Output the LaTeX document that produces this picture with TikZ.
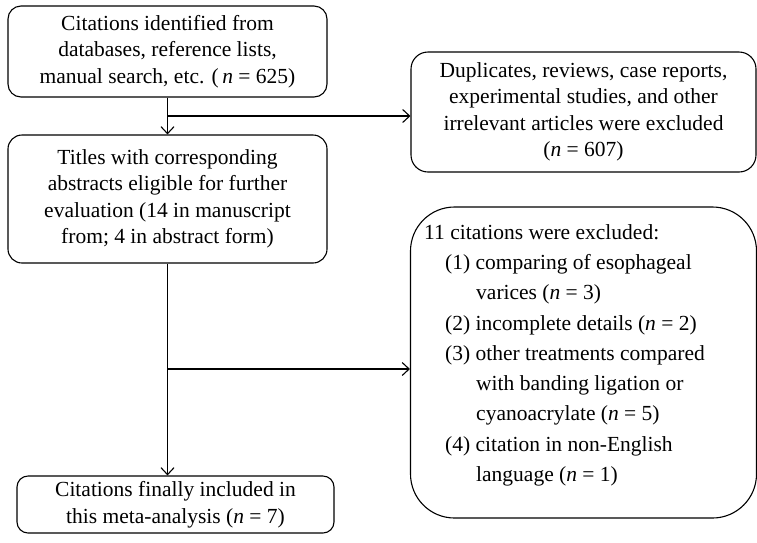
\documentclass[tikz,border=0pt]{standalone}
\usepackage{fontspec}
\setmainfont{Liberation Serif}
\usetikzlibrary{arrows.meta}
\newcommand{\nn}{\textit{n}}
\begin{document}
\begin{tikzpicture}[x=1pt,y=-1pt,
  boxstyle/.style={draw, line width=1.1pt, inner sep=0pt, align=center,
    font=\fontsize{21.5}{26.5}\selectfont},
  arr/.style={line width=1.1pt, -{Straight Barb[length=7pt,width=13pt,line width=1.1pt]}}]
\useasboundingbox (0,0) rectangle (757,542);
\node[boxstyle, rounded corners=13pt, minimum width=319pt, minimum height=91pt] (b1) at (167.5,51.5)
  {Citations identified from\\databases, reference lists,\\manual search, etc. (\,\nn{} = 625)};
\node[boxstyle, rounded corners=14pt, minimum width=319pt, minimum height=128pt] (b2) at (167.5,199)
  {Titles with corresponding\\abstracts eligible for further\\evaluation (14 in manuscript\\from; 4 in abstract form)};
\node[boxstyle, rounded corners=17pt, minimum width=345pt, minimum height=120pt] (dup) at (583.5,112)
  {Duplicates, reviews, case reports,\\experimental studies, and other\\irrelevant articles were excluded\\(\nn{} = 607)};
\node[boxstyle, rounded corners=44pt, minimum width=346pt, minimum height=311pt] (exc) at (583.5,362.5) {};
\node[anchor=north west, inner sep=0pt, align=left, font=\fontsize{21.5}{30.3}\selectfont] (exct) at (424,224)
  {11 citations were excluded:\\
   \hspace*{21pt}(1) comparing of esophageal\\
   \hspace*{52pt}varices (\nn{} = 3)\\
   \hspace*{21pt}(2) incomplete details (\nn{} = 2)\\
   \hspace*{21pt}(3) other treatments compared\\
   \hspace*{52pt}with banding ligation or\\
   \hspace*{52pt}cyanoacrylate (\nn{} = 5)\\
   \hspace*{21pt}(4) citation in non-English\\
   \hspace*{52pt}language (\nn{} = 1)};
\node[boxstyle, rounded corners=11pt, minimum width=317pt, minimum height=57pt] (fin) at (175.5,504.5)
  {Citations finally included in\\this meta-analysis (\nn{} = 7)};
\coordinate (j1) at (168,116);
\coordinate (j2) at (168,369);
\draw[arr] (b1.south) -- (b2.north);
\draw[arr] (j1) -- (j1 -| dup.west);
\draw[arr] (b2.south) -- (b2.south |- fin.north);
\draw[arr] (j2) -- (j2 -| exc.west);
\end{tikzpicture}
\end{document}
